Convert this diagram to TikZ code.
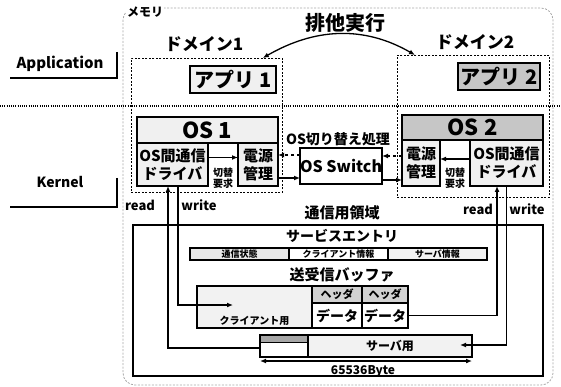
\documentclass[tikz,border=0pt]{standalone}
\usepackage{fontspec}
\setmainfont{Noto Sans CJK JP}
\usetikzlibrary{arrows.meta}
\newcommand{\fs}[1]{\fontsize{#1}{#1}\selectfont\bfseries}
\newcommand{\fsl}[2]{\fontsize{#1}{#2}\selectfont\bfseries}
\begin{document}
\begin{tikzpicture}[x=1pt,y=-1pt,
  bx/.style={draw, line width=1.4pt, inner sep=0pt, outer sep=0pt, anchor=north west, align=center},
  dom/.style={draw, dash pattern=on 2pt off 1.5pt, line width=0.8pt, inner sep=0pt, anchor=north west},
  sz/.style 2 args={minimum width=#1pt, minimum height=#2pt},
  lbl/.style={inner sep=1pt, align=center},
  arr/.style={line width=1.3pt, -{Latex[length=6pt,width=5pt]}},
  darr/.style={line width=1.2pt, dash pattern=on 3pt off 3pt, -{Latex[length=6pt,width=5pt]}},
  brk/.style={line width=2pt}
]
\useasboundingbox (0,0) rectangle (561,387);
% memory outline
\draw[gray!70, dash pattern=on 2pt off 1.5pt, line width=0.8pt, rounded corners=12pt] (123,8) rectangle (553,385);
\node[lbl, fill=white, anchor=west, font=\fs{12}] (meml) at (126,12) {メモリ};
% side labels
\node[lbl, font=\fs{15}] (appl) at (60,64) {Application};
\node[lbl, font=\fs{14}] (kl) at (60,182) {Kernel};
\draw[brk] (117,52) -- (117,78) -- (10,78);
\draw[brk] (117,178) -- (117,207) -- (10,207);
% domains
\node[dom, sz={151}{134}] (dom1) at (131,58) {};
\node[dom, sz={152}{142}] (dom2) at (397,55) {};
\node[lbl, font=\fs{17}] (dl1) at (204,44) {ドメイン1};
\node[lbl, font=\fs{17}] (dl2) at (475,42) {ドメイン2};
\node[lbl, font=\fs{20}] (ex) at (345,23) {排他実行};
\coordinate (exa) at ([xshift=-20pt]dom1.north east);
\coordinate (exb) at ([xshift=18pt]dom2.north west);
\draw[line width=1.3pt, {Latex[length=6pt,width=5pt]}-{Latex[length=6pt,width=5pt]}] (exa) to[out=30,in=150] (exb);
% separator
\draw[line width=1.3pt, dash pattern=on 1pt off 1.2pt] (0,106) -- (561,106);
% apps
\node[bx, fill=gray!12, sz={86}{27}, font=\fs{20}] (app1) at (190,66) {アプリ 1};
\node[bx, fill=gray!45, sz={82}{27}, font=\fs{20}] (app2) at (458,63) {アプリ 2};
% OS 1
\node[bx, fill=gray!12, sz={141}{26}, font=\fs{22}] (os1h) at (137,117) {OS 1};
\node[bx, fill=gray!12, sz={71}{43}, font=\fsl{15}{18}] (drv1) at (137,143) {OS間通信\\ドライバ};
\node[bx, fill=gray!12, sz={40}{43}, font=\fsl{15}{18}] (pw1) at (238,143) {電源\\管理};
\node[lbl, font=\fsl{10}{11}] (kr1) at (223,178) {切替\\要求};
% OS switch
\node[bx, fill=white, sz={82}{36}, font=\fs{16}] (sw) at (300,148) {OS Switch};
\node[lbl, font=\fs{14}] (swl) at (338,139) {OS切り替え処理};
% OS 2
\node[bx, fill=gray!45, sz={141}{25}, font=\fs{22}] (os2h) at (402,115) {OS 2};
\node[bx, fill=gray!12, sz={38}{46}, font=\fsl{15}{18}] (pw2) at (402,140) {電源\\管理};
\node[bx, fill=gray!12, sz={73}{46}, font=\fsl{15}{18}] (drv2) at (470,140) {OS間通信\\ドライバ};
\node[lbl, font=\fsl{10}{11}] (kr2) at (455,178) {切替\\要求};
% arrows in kernel
\draw[arr] ([yshift=7pt]drv1.east) -- ([yshift=7pt]drv1.east -| pw1.west);
\draw[arr] ([yshift=4pt]drv2.west) -- ([yshift=4pt]drv2.west -| pw2.east);
\draw[darr] ([yshift=11pt]sw.west) -- ([yshift=11pt]sw.west -| pw1.east);
\draw[arr] ([yshift=-12pt]sw.west -| pw1.east) -- ([yshift=-12pt]sw.west);
\draw[darr] ([yshift=10pt]sw.east -| pw2.west) -- ([yshift=10pt]sw.east);
\draw[arr] ([yshift=-14pt]sw.east) -- ([yshift=-14pt]sw.east -| pw2.west);
% read / write labels
\node[lbl, font=\fs{13}] (rd1) at (140,205) {read};
\node[lbl, font=\fs{13}] (wr1) at (199,205) {write};
\node[lbl, font=\fs{13}] (rd2) at (478,209) {read};
\node[lbl, font=\fs{13}] (wr2) at (527,209) {write};
% communication area
\node[lbl, font=\fs{15}] (cl) at (342,213) {通信用領域};
\node[bx, line width=1.3pt, sz={410}{151}] (comm) at (133,225) {};
\node[lbl, font=\fs{14}] (sel) at (342,236) {サービスエントリ};
\node[bx, line width=1.1pt, fill=gray!18, sz={99}{12}, font=\fs{9}] (se1) at (190,248) {通信状態};
\node[bx, line width=1.1pt, fill=white, sz={99}{12}, font=\fs{9}] (se2) at (289,248) {クライアント情報};
\node[bx, line width=1.1pt, fill=gray!10, sz={99}{12}, font=\fs{9}] (se3) at (388,248) {サーバ情報};
\node[lbl, font=\fs{15}] (bfl) at (342,275) {送受信バッファ};
\node[bx, fill=gray!10, sz={115}{42}] (cli) at (197,286) {};
\node[lbl, anchor=south, font=\fs{10}] (clil) at ([yshift=1pt]cli.south) {クライアント用};
\node[bx, line width=1.2pt, fill=gray!35, sz={50}{17}, font=\fs{11}] (h1) at (312,286) {ヘッダ};
\node[bx, line width=1.2pt, fill=white, sz={50}{25}, font=\fs{14}] (d1) at (312,303) {データ};
\node[bx, line width=1.2pt, fill=gray!35, sz={46}{17}, font=\fs{11}] (h2) at (362,286) {ヘッダ};
\node[bx, line width=1.2pt, fill=white, sz={46}{25}, font=\fs{14}] (d2) at (362,303) {データ};
\node[bx, fill=white, sz={48}{22}] (sm) at (260,335) {};
\node[bx, line width=0.8pt, fill=gray!70, sz={48}{7}] (smh) at (260,335) {};
\node[bx, fill=gray!10, sz={164}{22}, font=\fs{12}] (srv) at (308,335) {サーバ用};
\draw[line width=1.3pt, {Latex[length=6pt,width=5pt]}-{Latex[length=6pt,width=5pt]}] ([yshift=-4pt]sm.south west) -- ([yshift=-4pt]srv.south east);
\node[lbl, font=\fs{12}] (byl) at (363,371) {65536Byte};
% read / write connectors
\draw[arr] ([xshift=5.5pt]drv1.south) |- ([xshift=36pt,yshift=2pt]cli.west);
\draw[arr] ([yshift=-2pt]sm.west) -| ([xshift=-4.5pt]drv1.south);
\draw[arr] (d2.east) -| ([xshift=-9.5pt]drv2.south);
\draw[arr] (drv2.south) |- ([xshift=-12pt,yshift=1pt]srv.east);
\end{tikzpicture}
\end{document}
